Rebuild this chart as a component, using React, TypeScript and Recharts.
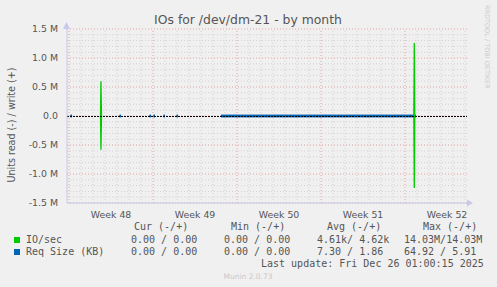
import { ComposedChart, Line, XAxis, YAxis, ReferenceLine } from "recharts";

// time in days from the left edge of the plot, values in IOs/sec and KB
const ioDays = [0, 2.79, 2.83, 2.875, 3.0, 28.8, 28.9, 28.94, 28.98, 29.1, 33.33];
const ioWrite = [null, 0, 600000, 0, null, null, 0, 1260000, 0, null, null];
const ioRead = [null, 0, -580000, 0, null, null, 0, -1240000, 0, null, null];

const reqDays = [0.29, 0.42, 0.46, 4.38, 4.5, 4.54, 6.88, 7.0, 7.04, 7.21, 7.33, 7.37, 8.04, 8.16, 8.2, 9.13, 9.25, 9.29, 12.83, 29.08];
const reqWrite = [1.86, 1.86, null, 1.86, 1.86, null, 1.86, 1.86, null, 1.86, 1.86, null, 1.86, 1.86, null, 1.86, 1.86, null, 1.86, 1.86];
const reqRead = [-7.3, -7.3, null, -7.3, -7.3, null, -7.3, -7.3, null, -7.3, -7.3, null, -7.3, -7.3, null, -7.3, -7.3, null, -7.3, -7.3];

const zeroDays = [0, 33.333];
const zeroValues = [0, 0];

const weekLabels = ["Week 48", "Week 49", "Week 50", "Week 51", "Week 52"];
const weekLabelDays = [3.67, 10.67, 17.67, 24.67, 31.67];
const weekStartDays = [0.17, 7.17, 14.17, 21.17, 28.17];
const dayLines = [1.17, 2.17, 3.17, 4.17, 5.17, 6.17, 8.17, 9.17, 10.17, 11.17, 12.17, 13.17, 15.17, 16.17, 17.17, 18.17, 19.17, 20.17, 22.17, 23.17, 24.17, 25.17, 26.17, 27.17, 29.17, 30.17, 31.17, 32.17, 33.17];

const yTicks = [-1500000, -1000000, -500000, 0, 500000, 1000000, 1500000];
const yTickLabels = ["-1.5 M", "-1.0 M", "-0.5 M", "0.0", "0.5 M", "1.0 M", "1.5 M"];
const yMinor = [-1400000, -1300000, -1200000, -1100000, -900000, -800000, -700000, -600000, -400000, -300000, -200000, -100000, 100000, 200000, 300000, 400000, 600000, 700000, 800000, 900000, 1100000, 1200000, 1300000, 1400000];

const legendRows = [
  { name: "IO/sec", color: "#00cc00", cur: "0.00 / 0.00", min: "0.00 / 0.00", avg: "4.61k/ 4.62k", max: "14.03M/14.03M" },
  { name: "Req Size (KB)", color: "#0066b3", cur: "0.00 / 0.00", min: "0.00 / 0.00", avg: " 7.30 / 1.86", max: "64.92 / 5.91" },
];

const ioData = ioDays.map((t, i) => ({ t, w: ioWrite[i], r: ioRead[i] }));
const reqData = reqDays.map((t, i) => ({ t, w: reqWrite[i], r: reqRead[i] }));
const zeroData = zeroDays.map((t, i) => ({ t, z: zeroValues[i] }));

const SANS = "'DejaVu Sans', sans-serif";
const MONO = "'DejaVu Sans Mono', monospace";
const TEXT = "#555555";
const MINOR = "#d2d2d2";
const MAJOR = "#e6a0a0";

function XTick({ x, y, payload, index }: any) {
  return (
    <text x={x} y={y + 13} textAnchor="middle" fontFamily={SANS} fontSize={9.4} fill={TEXT}>
      {weekLabels[index] ?? payload.value}
    </text>
  );
}

function YTick({ x, y, index }: any) {
  return (
    <text x={x - 7} y={y + 3} textAnchor="end" fontFamily={SANS} fontSize={9.4} fill={TEXT}>
      {yTickLabels[index]}
    </text>
  );
}

export default function App() {
  return (
    <div style={{ position: "absolute", left: 0, top: 0, width: 497, height: 287, background: "#f0f0f0" }}>
      <ComposedChart width={497} height={287} margin={{ top: 29, right: 30, bottom: 0, left: 0 }}>
        <XAxis
          type="number"
          dataKey="t"
          domain={[0, 33.333]}
          allowDataOverflow
          ticks={weekLabelDays}
          tick={<XTick />}
          tickLine={false}
          tickSize={0}
          height={84}
          stroke="#c8c8ee"
        />
        <YAxis
          type="number"
          domain={[-1500000, 1500000]}
          ticks={yTicks}
          tick={<YTick />}
          tickLine={false}
          tickSize={0}
          width={67}
          stroke="#c8c8ee"
        />
        {yMinor.map((v) => (
          <ReferenceLine key={`hy${v}`} y={v} stroke={MINOR} strokeDasharray="1 2" />
        ))}
        {dayLines.map((v) => (
          <ReferenceLine key={`vx${v}`} x={v} stroke={MINOR} strokeDasharray="1 2" />
        ))}
        {yTicks.map((v) => (
          <ReferenceLine key={`HY${v}`} y={v} stroke={MAJOR} strokeDasharray="1 2" />
        ))}
        {weekStartDays.map((v) => (
          <ReferenceLine key={`VX${v}`} x={v} stroke={MAJOR} strokeDasharray="1 2" />
        ))}
        <Line data={reqData} dataKey="w" stroke="#0066b3" strokeWidth={2.4} dot={false} connectNulls={false} isAnimationActive={false} />
        <Line data={reqData} dataKey="r" stroke="#0066b3" strokeWidth={2.4} dot={false} connectNulls={false} isAnimationActive={false} />
        <Line data={ioData} dataKey="w" stroke="#00cc00" strokeWidth={1.3} dot={false} connectNulls={false} isAnimationActive={false} />
        <Line data={ioData} dataKey="r" stroke="#00cc00" strokeWidth={1.3} dot={false} connectNulls={false} isAnimationActive={false} />
        <Line data={zeroData} dataKey="z" stroke="#000000" strokeWidth={1} strokeDasharray="2 1" shapeRendering="crispEdges" dot={false} isAnimationActive={false} />
      </ComposedChart>

      <svg width={497} height={287} style={{ position: "absolute", left: 0, top: 0, pointerEvents: "none" }}>
        <polygon points="63,29 70,29 66.5,22" fill="#c8c8ee" />
        <polygon points="467,199.5 467,206.5 473,203" fill="#c8c8ee" />
        <text x={248} y={24} textAnchor="middle" fontFamily={SANS} fontSize={12.4} fill={TEXT}>
          IOs for /dev/dm-21 - by month
        </text>
        <text transform="translate(15,125) rotate(-90)" textAnchor="middle" fontFamily={SANS} fontSize={9.6} fill={TEXT}>
          Units read (-) / write (+)
        </text>
        <text transform="translate(485,5) rotate(90)" textAnchor="start" fontFamily={SANS} fontSize={6.5} fill="#cccccc">
          RRDTOOL / TOBI OETIKER
        </text>

        <g fontFamily={MONO} fontSize={10} fill={TEXT} style={{ whiteSpace: "pre" }}>
          <text x={134} y={230}>Cur (-/+)</text>
          <text x={231} y={230}>Min (-/+)</text>
          <text x={327} y={230}>Avg (-/+)</text>
          <text x={423} y={230}>Max (-/+)</text>
          {legendRows.map((row, i) => (
            <g key={row.name}>
              <rect x={14} y={237 + i * 12} width={6} height={6} fill={row.color} />
              <text x={26} y={243 + i * 12}>{row.name}</text>
              <text x={131} y={243 + i * 12}>{row.cur}</text>
              <text x={224} y={243 + i * 12}>{row.min}</text>
              <text x={317} y={243 + i * 12}>{row.avg}</text>
              <text x={404} y={243 + i * 12}>{row.max}</text>
            </g>
          ))}
          <text x={261} y={266.5}>Last update: Fri Dec 26 01:00:15 2025</text>
        </g>
        <text x={248} y={279} textAnchor="middle" fontFamily={SANS} fontSize={7.5} fill="#c8c8c8">
          Munin 2.0.73
        </text>
      </svg>
    </div>
  );
}
